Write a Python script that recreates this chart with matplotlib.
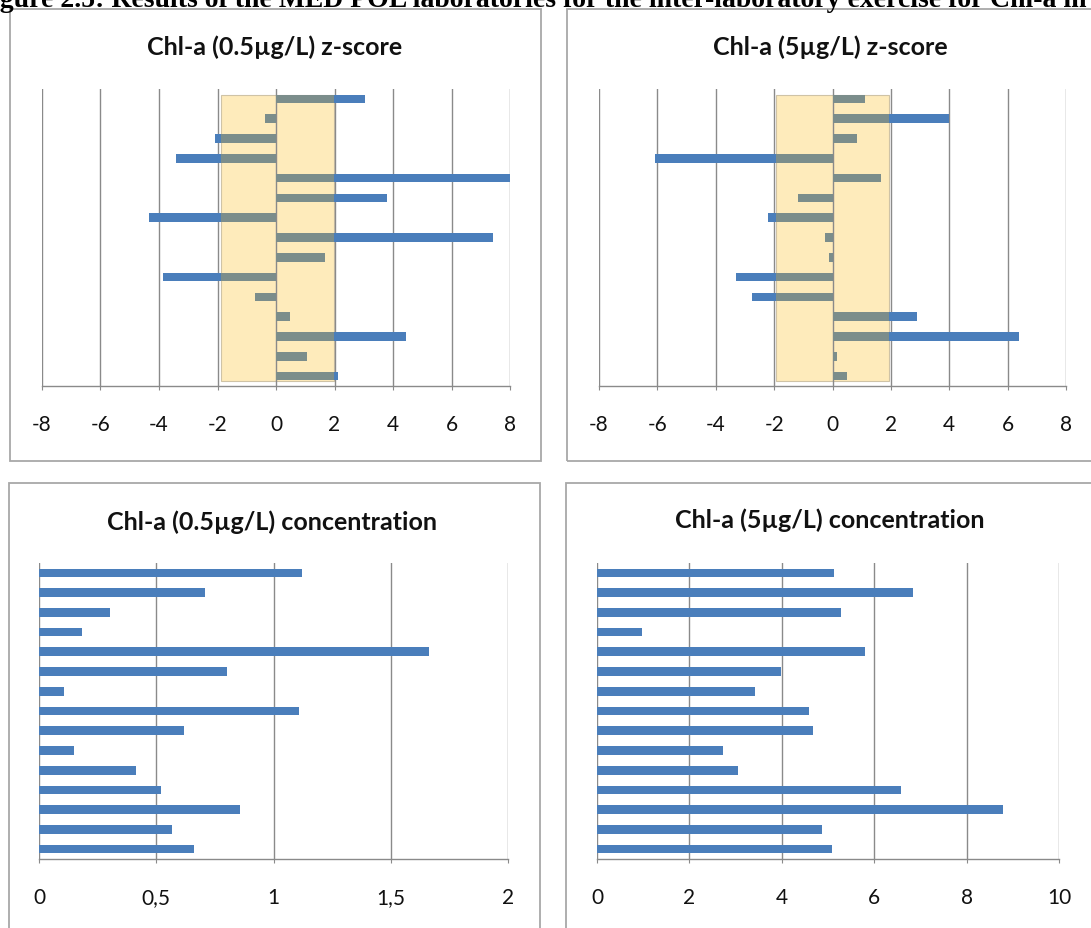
import matplotlib
matplotlib.use("Agg")
import matplotlib.pyplot as plt
from matplotlib.patches import Rectangle
import numpy as np

# ---------------- data (top bar first) ----------------
z_low = [3.03, -0.37, -2.07, -3.43, 8.0, 3.78, -4.33, 7.41, 1.66, -3.86, -0.73, 0.48, 4.43, 1.05, 2.13]
z_high = [1.11, 4.0, 0.84, -6.08, 1.67, -1.19, -2.2, -0.26, -0.12, -3.3, -2.77, 2.9, 6.39, 0.16, 0.49]
conc_low = [1.12, 0.708, 0.302, 0.185, 1.664, 0.80, 0.108, 1.107, 0.618, 0.15, 0.413, 0.519, 0.859, 0.566, 0.661]
conc_high = [5.14, 6.83, 5.28, 0.97, 5.81, 3.99, 3.41, 4.59, 4.68, 2.72, 3.05, 6.59, 8.79, 4.86, 5.08]

z_ticks = [-8, -6, -4, -2, 0, 2, 4, 6, 8]
z_ticklabels = ["-8", "-6", "-4", "-2", "0", "2", "4", "6", "8"]
cl_ticks = [0, 0.5, 1, 1.5, 2]
cl_ticklabels = ["0", "0,5", "1", "1,5", "2"]
ch_ticks = [0, 2, 4, 6, 8, 10]
ch_ticklabels = ["0", "2", "4", "6", "8", "10"]

titles = ["Chl-a (0.5µg/L) z-score", "Chl-a (5µg/L) z-score",
          "Chl-a (0.5µg/L) concentration", "Chl-a (5µg/L) concentration"]
caption = "Figure 2.5: Results of the MED POL laboratories for the inter-laboratory exercise for Chl-a in 2011"

BLUE = "#4A7EBB"
GRAY = "#7B8D8B"
BAND = "#FEEBBB"
GRID = "#8A8A8A"
BOX = "#A8A8A8"

W, H = 1091, 929
fig = plt.figure(figsize=(W / 100, H / 100), dpi=100)
fig.patch.set_facecolor("white")


def rect(l, r, t, b):
    return [l / W, 1 - b / H, (r - l) / W, (b - t) / H]


def box(l, r, t, b):
    fig.add_artist(Rectangle((l / W, 1 - b / H), (r - l) / W, (b - t) / H,
                             transform=fig.transFigure, fill=False,
                             edgecolor=BOX, lw=1.3, zorder=0))


FONT = "Lato"


def make_panel(pos, values, ticks, ticklabels, xlim, title, title_xy, band=None):
    ax = fig.add_axes(pos)
    n = len(values)
    y = np.arange(n)[::-1]
    ax.set_ylim(-0.5, n - 0.5)
    ax.set_xlim(*xlim)
    ax.barh(y, values, height=0.44, color=BLUE, zorder=2)
    if band is not None:
        bp = Rectangle((band[0], -0.25), band[1] - band[0], n - 0.55,
                       facecolor=BAND, edgecolor="#CFC3A6", lw=0.8, zorder=1)
        ax.add_patch(bp)
        clip = Rectangle((band[0], -0.25), band[1] - band[0], n - 0.55,
                         transform=ax.transData)
        over = ax.barh(y, values, height=0.44, color=GRAY, zorder=3)
        for b in over:
            b.set_clip_path(clip)
    ax.set_xticks(ticks)
    ax.set_xticklabels(ticklabels, fontfamily=FONT, fontsize=15, color="#111111")
    ax.set_yticks([])
    ax.grid(axis="x", color=GRID, lw=1.0)
    ax.set_axisbelow("line")
    for s in ["top", "left", "right"]:
        ax.spines[s].set_visible(False)
    ax.spines["bottom"].set_color(GRID)
    ax.spines["bottom"].set_linewidth(1.0)
    ax.tick_params(axis="x", direction="out", length=3, color=GRID, pad=17)
    ax.patch.set_alpha(0)
    fig.text(title_xy[0] / W, 1 - title_xy[1] / H, title, ha="center", va="center",
             fontfamily=FONT, fontweight="bold", fontsize=18, color="#111111")
    return ax


# frames
box(10, 541, 10, 462)
box(567, 1110, 10, 462)
box(9, 540, 484, 950)
box(566, 1110, 484, 950)

make_panel(rect(42, 510, 90, 387), z_low, z_ticks, z_ticklabels, (-8, 8),
           titles[0], (275, 47), band=(-1.88, 1.98))
make_panel(rect(599, 1066, 90, 387), z_high, z_ticks, z_ticklabels, (-8, 8),
           titles[1], (830, 47), band=(-1.92, 1.92))
make_panel(rect(39, 508, 564, 860), conc_low, cl_ticks, cl_ticklabels, (0, 2),
           titles[2], (272, 522))
make_panel(rect(597, 1059, 564, 860), conc_high, ch_ticks, ch_ticklabels, (0, 10),
           titles[3], (830, 520))

# clipped caption at top: shift so that "Fi" falls off the left edge
cap_kw = dict(fontfamily="Liberation Serif", fontweight="bold", fontsize=20)
probe = fig.text(0, 0, "Fi", **cap_kw)
renderer = fig.canvas.get_renderer()
fi_w = probe.get_window_extent(renderer).width
probe.remove()
fig.text(-fi_w / W, 1 - 7 / H, caption, ha="left", va="baseline", color="black", **cap_kw)

fig.savefig("out.png", dpi=100)
